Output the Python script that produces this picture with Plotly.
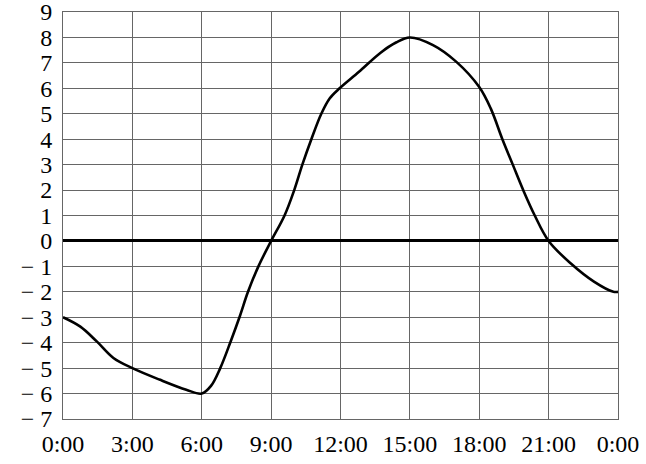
import plotly.graph_objects as go

# Data (hours, value)
hours = [0, 0.75, 1.46, 2.18, 3.0, 4.17, 5.33, 6.0, 6.4, 6.8, 7.25, 7.65, 8.0, 8.45, 9.0,
         9.58, 10.0, 10.35, 10.74, 11.17, 11.53, 11.96, 12.8, 13.72, 14.4, 15.0,
         16.0, 17.0, 18.0, 18.5, 19.0, 19.45, 19.9, 20.4, 21.0, 21.95, 22.96, 23.8, 24.0]
values = [-3.0, -3.37, -3.95, -4.6, -5.0, -5.45, -5.85, -6.0, -5.7, -5.0, -3.95, -2.95, -2.0, -1.0, 0.0,
          1.0, 2.0, 3.0, 4.0, 5.0, 5.6, 6.0, 6.65, 7.39, 7.8, 8.0,
          7.7, 7.05, 6.05, 5.2, 4.0, 3.0, 2.0, 1.0, 0.0, -0.88, -1.6, -2.0, -2.0]

x_ticks = [0, 3, 6, 9, 12, 15, 18, 21, 24]
x_labels = ["0:00", "3:00", "6:00", "9:00", "12:00", "15:00", "18:00", "21:00", "0:00"]
y_ticks = list(range(-7, 10))
y_labels = [("\u2212 " + str(-v)) if v < 0 else str(v) for v in y_ticks]

fig = go.Figure()
fig.add_trace(go.Scatter(
    x=hours, y=values, mode="lines",
    line=dict(color="black", width=2.6, shape="spline", smoothing=1.0),
    hoverinfo="skip", showlegend=False,
))

font = dict(family="Liberation Serif, Times New Roman, serif", size=24, color="black")

fig.update_layout(
    width=646, height=464,
    margin=dict(l=63, r=28, t=12, b=45, autoexpand=False),
    paper_bgcolor="white", plot_bgcolor="white",
    showlegend=False,
    font=font,
)
fig.update_xaxes(
    range=[0, 24], tickvals=x_ticks, ticktext=x_labels,
    showgrid=True, gridcolor="#666", gridwidth=1,
    showline=True, linecolor="#666", linewidth=1, mirror=True,
    zeroline=False, ticks="", ticklen=0, tickfont=font, automargin=False,
    ticklabeloverflow="allow", ticklabelstandoff=3,
)
fig.update_yaxes(
    range=[-7, 9], tickvals=y_ticks, ticktext=y_labels,
    showgrid=True, gridcolor="#666", gridwidth=1,
    showline=True, linecolor="#666", linewidth=1, mirror=True,
    zeroline=True, zerolinecolor="black", zerolinewidth=2.6,
    ticks="", ticklen=0, tickfont=font, automargin=False,
    ticklabeloverflow="allow", ticklabelstandoff=5,
)

fig.write_html("out.html", config={"displayModeBar": False},
               post_script="document.body.style.margin='0';")
